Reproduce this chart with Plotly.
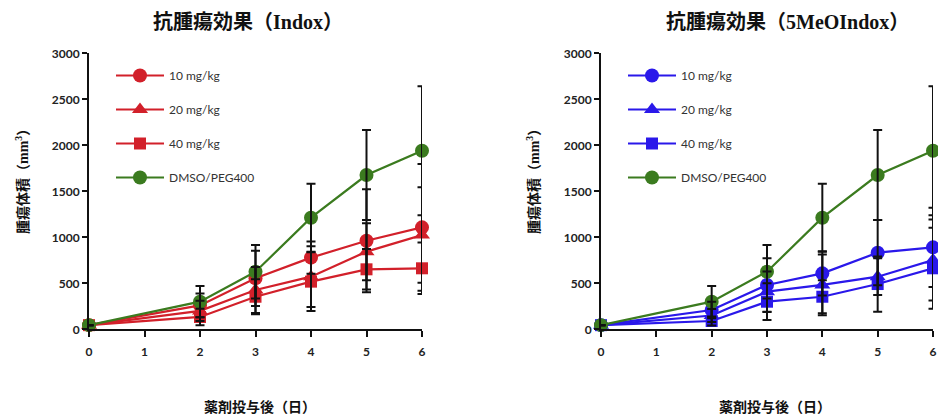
import plotly.graph_objects as go

days = [0, 2, 3, 4, 5, 6]
x_ticks = [0, 1, 2, 3, 4, 5, 6]
y_ticks = [0, 500, 1000, 1500, 2000, 2500, 3000]

dmso = [45, 300, 626, 1213, 1677, 1941]
dmso_err = [0, 170, 290, 370, 490, 700]

indox10 = [45, 260, 554, 779, 963, 1108]
indox10_err = [0, 130, 300, 175, 560, 690]
indox20 = [45, 200, 427, 572, 844, 1025]
indox20_err = [0, 110, 250, 330, 310, 520]
indox40 = [45, 134, 354, 518, 652, 663]
indox40_err = [0, 90, 190, 320, 220, 280]

meo10 = [45, 210, 482, 608, 833, 891]
meo10_err = [0, 90, 290, 240, 355, 430]
meo20 = [45, 150, 409, 482, 572, 753]
meo20_err = [0, 70, 220, 330, 200, 440]
meo40 = [45, 90, 300, 354, 492, 663]
meo40_err = [0, 50, 200, 180, 300, 440]

labels = ["10 mg/kg", "20 mg/kg", "40 mg/kg", "DMSO/PEG400"]
titles = ["抗腫瘍効果（Indox）", "抗腫瘍効果（5MeOIndox）"]
y_title = "腫瘍体積（mm<sup>3</sup>）"
x_title = "薬剤投与後（日）"

RED = "#d2202a"
BLUE = "#2a18ea"
GREEN = "#3b7b1f"
symbols = ["circle", "triangle-up", "square", "circle"]
sizes = [14, 14, 12, 14]

W, H = 938, 420
fig = go.Figure()

panels = [
    ("x", "y", "legend", [indox10, indox20, indox40], [indox10_err, indox20_err, indox40_err], RED),
    ("x2", "y2", "legend2", [meo10, meo20, meo40], [meo10_err, meo20_err, meo40_err], BLUE),
]

for xa, ya, lg, series, errs, col in panels:
    all_series = series + [dmso]
    all_errs = errs + [dmso_err]
    cols = [col, col, col, GREEN]
    for i in range(4):
        fig.add_trace(go.Scatter(
            x=days, y=all_series[i], mode="lines+markers", name=labels[i],
            line=dict(color=cols[i], width=2.2),
            marker=dict(symbol=symbols[i], size=sizes[i], color=cols[i]),
            xaxis=xa, yaxis=ya, legend=lg, legendgroup=lg + str(i),
            cliponaxis=False,
        ))
    for i in range(4):
        fig.add_trace(go.Scatter(
            x=days, y=all_series[i], mode="markers",
            marker=dict(size=1, color="rgba(0,0,0,0)"),
            error_y=dict(type="data", array=all_errs[i], visible=True,
                         color="#111111", thickness=2, width=4.5),
            xaxis=xa, yaxis=ya, showlegend=False, hoverinfo="skip",
            cliponaxis=False,
        ))

def px_x(p):
    return p / W

def px_y(p):
    return 1 - p / H

tickfont = dict(family="Lato, Open Sans, sans-serif", size=12, color="#222222", weight="bold")
axis_common = dict(showgrid=False, zeroline=False, showline=True, linecolor="#111111",
                   linewidth=2, ticks="outside", tickcolor="#111111", tickwidth=2,
                   tickfont=tickfont, automargin=False)

xdom = [[px_x(89), px_x(422)], [px_x(601), px_x(933)]]
ydom = [px_y(329.3), px_y(53.3)]

layout = dict(
    width=W, height=H, margin=dict(l=0, r=0, t=0, b=0),
    paper_bgcolor="white", plot_bgcolor="white",
    xaxis=dict(domain=xdom[0], range=[0, 6], tickvals=x_ticks, ticklen=6,
               ticklabelstandoff=4, anchor="y", **axis_common),
    yaxis=dict(domain=ydom, range=[0, 3000], tickvals=y_ticks, ticklen=5,
               anchor="x", **axis_common),
    xaxis2=dict(domain=xdom[1], range=[0, 6], tickvals=x_ticks, ticklen=6,
                ticklabelstandoff=4, anchor="y2", **axis_common),
    yaxis2=dict(domain=ydom, range=[0, 3000], tickvals=y_ticks, ticklen=5,
                anchor="x2", **axis_common),
    showlegend=True,
)

legend_common = dict(font=dict(family="Lato, Open Sans, sans-serif", size=12, color="#333333"),
                     bgcolor="rgba(0,0,0,0)", tracegroupgap=15, itemwidth=48,
                     xanchor="left", yanchor="top")
layout["legend"] = dict(x=px_x(111), y=px_y(61), **legend_common)
layout["legend2"] = dict(x=px_x(623), y=px_y(61), **legend_common)
fig.update_layout(**layout)

cjk = "Noto Sans CJK JP"
serif_cjk = "Liberation Serif, Noto Sans CJK JP"
for cx, t in zip([248, 787], titles):
    fig.add_annotation(x=px_x(cx), y=px_y(22), xref="paper", yref="paper", text="<b>" + t + "</b>",
                       showarrow=False, font=dict(family=serif_cjk, size=20, color="#111111"),
                       xanchor="center", yanchor="middle")
for cx in [22, 533]:
    fig.add_annotation(x=px_x(cx), y=px_y(178), xref="paper", yref="paper", text="<b>" + y_title + "</b>",
                       showarrow=False, textangle=-90, font=dict(family=serif_cjk, size=14, color="#111111"),
                       xanchor="center", yanchor="middle")
for cx in [260, 775]:
    fig.add_annotation(x=px_x(cx), y=px_y(406), xref="paper", yref="paper", text="<b>" + x_title + "</b>",
                       showarrow=False, font=dict(family=cjk, size=14, color="#111111"),
                       xanchor="center", yanchor="middle")

fig.write_html("out.html", config={"displayModeBar": False},
               post_script="document.body.style.margin='0';document.body.style.overflow='hidden';")
